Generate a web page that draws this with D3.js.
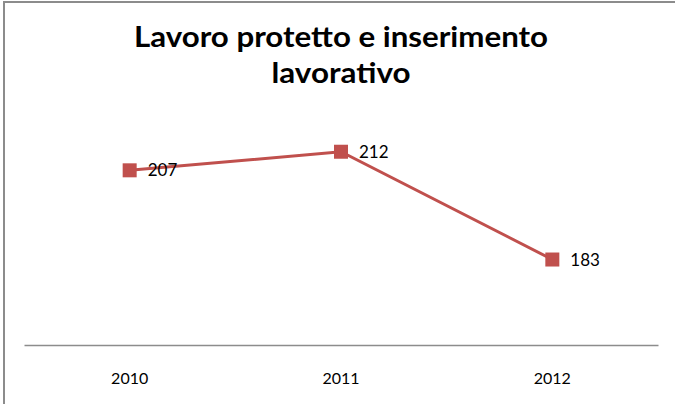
<!DOCTYPE html>
<html>
<head>
<meta charset="utf-8">
<script src="https://cdn.jsdelivr.net/npm/d3@7"></script>
<style>
  html, body { margin: 0; padding: 0; background: #fff; }
  svg { display: block; }
</style>
</head>
<body>
<svg id="chart" width="675" height="404"></svg>
<script>
// Data
const years = ["2010", "2011", "2012"];
const values = [207, 212, 183];
const titleLines = ["Lavoro protetto e inserimento", "lavorativo"];

const W = 675, H = 404;
const svg = d3.select("#chart");

// Chart frame (runs off the right and bottom edges)
svg.append("rect")
  .attr("x", 4).attr("y", 2)
  .attr("width", W + 10).attr("height", H + 10)
  .attr("fill", "#fff")
  .attr("stroke", "#8c8c8c")
  .attr("stroke-width", 2);

// Title
const title = svg.append("g")
  .attr("font-family", "Lato, 'Open Sans', sans-serif")
  .attr("font-weight", "bold")
  .attr("font-size", 28.5)
  .attr("fill", "#000")
  .attr("text-anchor", "middle");
title.append("text").attr("x", 341).attr("y", 47).text(titleLines[0])
  .attr("textLength", 414).attr("lengthAdjust", "spacingAndGlyphs");
title.append("text").attr("x", 341).attr("y", 83).text(titleLines[1])
  .attr("textLength", 139).attr("lengthAdjust", "spacingAndGlyphs");

// Scales
const plot = { left: 24, right: 658, top: 122, bottom: 345 };
const x = d3.scaleBand().domain(years).range([plot.left, plot.right]);
const y = d3.scaleLinear().domain([160, 220]).range([plot.bottom, plot.top]);

// Category axis
const xAxis = svg.append("g")
  .attr("transform", `translate(0,${plot.bottom})`)
  .call(d3.axisBottom(x).tickSize(0).tickPadding(0));
xAxis.select(".domain").attr("stroke", "#8c8c8c").attr("stroke-width", 1.5);
xAxis.selectAll(".tick text")
  .attr("font-family", "Lato, 'Open Sans', sans-serif")
  .attr("font-size", 16)
  .attr("fill", "#000")
  .attr("dy", 0)
  .attr("y", 39);

const cx = d => x(d) + x.bandwidth() / 2;
const pts = years.map((yr, i) => ({ yr, v: values[i] }));

// Series line
svg.append("path")
  .datum(pts)
  .attr("fill", "none")
  .attr("stroke", "#C0504D")
  .attr("stroke-width", 3)
  .attr("d", d3.line().x(d => cx(d.yr)).y(d => y(d.v)));

// Square markers
const ms = 14;
svg.selectAll("rect.marker")
  .data(pts).enter().append("rect")
  .attr("class", "marker")
  .attr("x", d => cx(d.yr) - ms / 2)
  .attr("y", d => y(d.v) - ms / 2)
  .attr("width", ms).attr("height", ms)
  .attr("fill", "#C0504D");

// Value labels
svg.selectAll("text.value")
  .data(pts).enter().append("text")
  .attr("class", "value")
  .attr("x", d => cx(d.yr) + 18)
  .attr("y", d => y(d.v) + 6)
  .attr("font-family", "Lato, 'Open Sans', sans-serif")
  .attr("font-size", 17)
  .attr("fill", "#000")
  .text(d => d.v);
</script>
</body>
</html>
